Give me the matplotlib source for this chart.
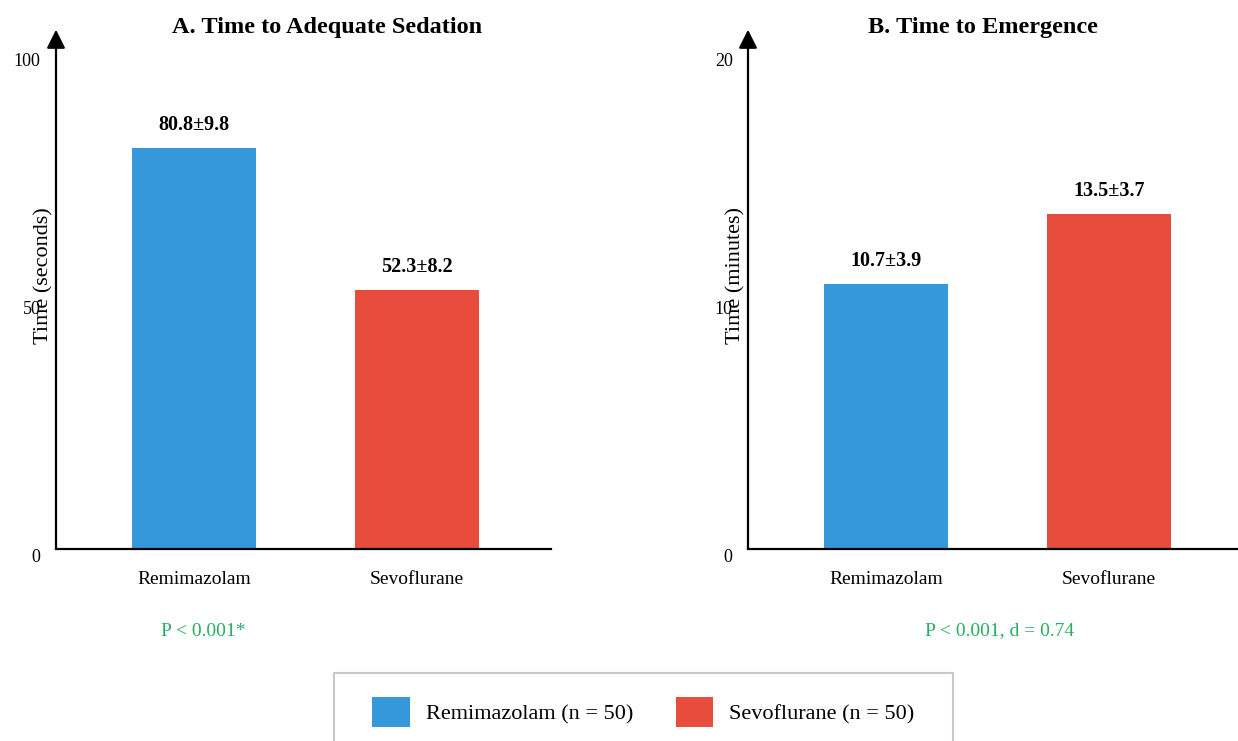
import matplotlib
matplotlib.use("Agg")
import matplotlib.pyplot as plt
from matplotlib.patches import Patch, Rectangle

plt.rcParams['font.family'] = ['Liberation Serif', 'DejaVu Serif']

groups = ["Remimazolam", "Sevoflurane"]
colors = ["#3498db", "#e74c3c"]
n_per_group = [50, 50]

sed_mean = [80.8, 52.3]
sed_sd = [9.8, 8.2]
emg_mean = [10.7, 13.5]
emg_sd = [3.9, 3.7]

panels = [
    ("A. Time to Adequate Sedation", "Time (seconds)", sed_mean, sed_sd, [0, 50, 100], "P < 0.001*"),
    ("B. Time to Emergence", "Time (minutes)", emg_mean, emg_sd, [0, 10, 20], "P < 0.001, d = 0.74"),
]

W, H = 1238, 741
fig = plt.figure(figsize=(W / 100, H / 100), dpi=100)

lefts = [56, 748]           # y-axis position in px
title_x = [327, 983]
p_x = [203, 1000]
green = "#27ae60"

for i, (title, ylab, means, sds, yticks, ptxt) in enumerate(panels):
    ax = fig.add_axes([lefts[i] / W, 1 - 549 / H, 495 / W, 496 / H])
    x = range(len(groups))
    ax.bar(x, means, width=0.555, color=colors)
    ax.set_xlim(-0.62, 1.60)
    ax.set_ylim(0, yticks[-1])

    for xi, m, s in zip(x, means, sds):
        ax.annotate(f"{m}±{s}", (xi, m), xytext=(0, 13), textcoords="offset points",
                    ha="center", va="baseline", fontsize=14.5, fontweight="bold")

    for side in ["top", "right", "left"]:
        ax.spines[side].set_visible(False)
    ax.spines["bottom"].set_linewidth(1.6)
    ax.annotate("", xy=(0, 1.047), xytext=(0, 0), xycoords="axes fraction",
                textcoords="axes fraction",
                arrowprops=dict(arrowstyle="-|>", lw=1.6, color="black",
                                mutation_scale=28, shrinkA=0, shrinkB=0),
                annotation_clip=False)

    ax.set_yticks(yticks)
    ax.set_yticklabels([str(t) for t in yticks], fontsize=13, va="top")
    ax.tick_params(axis="y", length=0, pad=11)
    ax.set_xticks(list(x))
    ax.set_xticklabels(groups, fontsize=14)
    ax.tick_params(axis="x", length=0, pad=16)

    ax.text(-0.024, 0.552, ylab, rotation=90, ha="center", va="center",
            fontsize=16, transform=ax.transAxes)

    fig.text(title_x[i] / W, 1 - 27 / H, title, ha="center", va="center",
             fontsize=17.5, fontweight="bold")
    fig.text(p_x[i] / W, 1 - 631 / H, ptxt, ha="center", va="center",
             fontsize=14, color=green)

# legend
fig.patches.append(Rectangle((334 / W, 1 - 760 / H), 619 / W, 87 / H,
                             transform=fig.transFigure, facecolor="white",
                             edgecolor="#c8c8c8", lw=1.5))
handles = [Patch(facecolor=c, edgecolor="none") for c in colors]
labels = [f"{g} (n = {n})" for g, n in zip(groups, n_per_group)]
fig.legend(handles, labels, loc="center", bbox_to_anchor=(643.5 / W, 1 - 712 / H),
           ncol=2, frameon=False, fontsize=16, handlelength=1.7, handleheight=1.7,
           handletextpad=0.72, columnspacing=1.9)

fig.savefig("out.png", dpi=100)
